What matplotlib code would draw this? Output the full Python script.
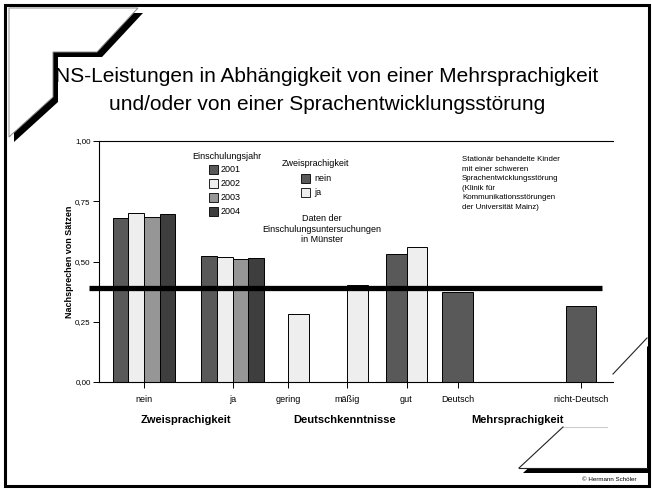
import numpy as np
import matplotlib
matplotlib.use('Agg')
from matplotlib import pyplot as plt
from matplotlib import font_manager
from matplotlib.patches import Polygon, Rectangle
from matplotlib.lines import Line2D

################
# Data Storage #
################

years = ['2001', '2002', '2003', '2004']
zweisprachig_cats = ['nein', 'ja']
nein_by_year = [0.682, 0.700, 0.684, 0.697]
ja_by_year = [0.523, 0.518, 0.512, 0.516]

kenntnis_cats = ['gering', 'mäßig', 'gut']
kenntnis_nein = [np.nan, np.nan, 0.531]    # Zweisprachigkeit: nein
kenntnis_ja = [0.282, 0.402, 0.559]        # Zweisprachigkeit: ja

mehr_cats = ['Deutsch', 'nicht-Deutsch']
mehr_values = [0.372, 0.317]

reference_value = 0.389

group_titles = ['Zweisprachigkeit', 'Deutschkenntnisse', 'Mehrsprachigkeit']

##############################
# MatPlotLib Initializations #
##############################

try:
    font_manager.findfont('Liberation Sans Narrow', fallback_to_default=False)
    narrow = 'Liberation Sans Narrow'
except Exception:
    narrow = 'Liberation Sans'
plt.rcParams['font.family'] = [narrow, 'DejaVu Sans']

W, H = 652, 490
def fx(x, y):
    # pixel position -> figure fraction
    return (x / W, 1 - y / H)

year_colors = ['#595959', '#eeeeee', '#969696', '#3e3e3e']
nein_color, ja_color = '#595959', '#eeeeee'

# x positions of the category ticks (axis units)
pos_zwei = [45, 133.5]
pos_kennt = [189, 248, 307.5]
pos_mehr = [358.5, 482]
w4, w2, w1 = 15.6, 20.8, 30.5

fig = plt.figure(figsize=(6.52, 4.9), dpi=100)

####################
# Slide decoration #
####################

fig.patches.append(Rectangle(fx(5, 486), 644 / W, 481 / H, transform=fig.transFigure,
                             fill=False, edgecolor='black', linewidth=2.2, zorder=-2))

tl = [(9, 8), (138, 8), (97, 52), (53, 52), (53, 97), (9, 137)]
fig.patches.append(Polygon([fx(x + 5, y + 5) for x, y in tl], closed=True,
                           transform=fig.transFigure, facecolor='black',
                           edgecolor='none', zorder=-1.5))
fig.patches.append(Polygon([fx(x, y) for x, y in tl], closed=True,
                           transform=fig.transFigure, facecolor='white',
                           edgecolor='#888888', linewidth=0.7, zorder=-1.4))

br = [(647, 338), (607, 378), (607, 427), (563, 427), (519, 468), (647, 468)]
fig.patches.append(Polygon([fx(x + 4, y + 5) for x, y in br], closed=True,
                           transform=fig.transFigure, facecolor='black',
                           edgecolor='none', zorder=-1.5))
fig.patches.append(Polygon([fx(x, y) for x, y in br], closed=True,
                           transform=fig.transFigure, facecolor='white',
                           edgecolor='none', zorder=-1.4))
for (x0, y0), (x1, y1), c in [((647, 338), (613, 374), '#222222'),
                              ((607, 427), (563, 427), '#cccccc'),
                              ((563, 427), (519, 468), '#222222'),
                              ((519, 468), (647, 468), '#222222')]:
    a, b = fx(x0, y0), fx(x1, y1)
    fig.lines.append(Line2D([a[0], b[0]], [a[1], b[1]], transform=fig.transFigure,
                            color=c, linewidth=0.8, zorder=-1.3))

fig.text(*fx(327, 77), 'NS-Leistungen in Abhängigkeit von einer Mehrsprachigkeit',
         ha='center', va='center', fontsize=15)
fig.text(*fx(327, 104), 'und/oder von einer Sprachentwicklungsstörung',
         ha='center', va='center', fontsize=15)
fig.text(*fx(637, 479), '© Hermann Schöler', ha='right', va='center', fontsize=4.5)

#########
# Chart #
#########

ax = fig.add_axes([99 / W, 1 - 382 / H, 514 / W, 241 / H])
ax.set_facecolor('none')

edge = dict(edgecolor='black', linewidth=0.7)
for i in range(4):
    vals = [nein_by_year[i], ja_by_year[i]]
    ax.bar(np.array(pos_zwei) + (i - 1.5) * w4, vals, width=w4,
           color=year_colors[i], label=years[i], **edge)

ax.bar(np.array(pos_kennt) - w2 / 2, kenntnis_nein, width=w2, color=nein_color, **edge)
ax.bar(np.array(pos_kennt) + w2 / 2, kenntnis_ja, width=w2, color=ja_color, **edge)
ax.bar(pos_mehr, mehr_values, width=w1, color=nein_color, **edge)

ax.plot([-0.02, 0.978], [reference_value, reference_value], color='black',
        linewidth=3.8, solid_capstyle='butt', transform=ax.get_yaxis_transform(),
        clip_on=False, zorder=5)

ax.set_xlim(0, 514)
ax.set_ylim(0, 1)
ax.set_yticks([0, 0.25, 0.5, 0.75, 1.0])
ax.set_yticklabels(['0,00', '0,25', '0,50', '0,75', '1,00'], fontsize=5.8)
ax.set_xticks(pos_zwei + pos_kennt + pos_mehr)
ax.set_xticklabels(zweisprachig_cats + kenntnis_cats + mehr_cats, fontsize=6.5)
ax.tick_params(axis='both', length=4, width=0.7, pad=2)
ax.tick_params(axis='x', pad=5)
ax.set_ylabel('Nachsprechen von Sätzen', fontsize=6.5, fontweight='bold', labelpad=1)
ax.spines['right'].set_visible(False)
for s in ['left', 'top', 'bottom']:
    ax.spines[s].set_linewidth(0.8)

for title, x in zip(group_titles, [186, 345, 517]):
    fig.text(*fx(x, 420), title, ha='center', va='center', fontsize=8, fontweight='bold')

# legends drawn as plain text + squares
fig.text(*fx(227, 156), 'Einschulungsjahr', ha='center', va='center', fontsize=6.5)
for i, (yr, c) in enumerate(zip(years, year_colors)):
    yy = 170 + i * 13.9
    fig.patches.append(Rectangle(fx(209, yy + 4.5), 9 / W, 9 / H, transform=fig.transFigure,
                                 facecolor=c, edgecolor='black', linewidth=0.6))
    fig.text(*fx(221, yy), yr, ha='left', va='center', fontsize=6.5)

fig.text(*fx(315, 164), 'Zweisprachigkeit', ha='center', va='center', fontsize=6.5)
for i, (lab, c) in enumerate(zip(zweisprachig_cats, [nein_color, ja_color])):
    yy = 178 + i * 14
    fig.patches.append(Rectangle(fx(301, yy + 4.5), 9 / W, 9 / H, transform=fig.transFigure,
                                 facecolor=c, edgecolor='black', linewidth=0.6))
    fig.text(*fx(314, yy), lab, ha='left', va='center', fontsize=6.5)

fig.text(*fx(322, 229), 'Daten der\nEinschulungsuntersuchungen\nin Münster',
         ha='center', va='center', fontsize=6.5, linespacing=1.25)
fig.text(*fx(462, 156), 'Stationär behandelte Kinder\nmit einer schweren\n'
         'Sprachentwicklungsstörung\n(Klinik für\nKommunikationsstörungen\n'
         'der Universität Mainz)', ha='left', va='top', fontsize=5.7, linespacing=1.5)

plt.savefig('out.png', dpi=100)
